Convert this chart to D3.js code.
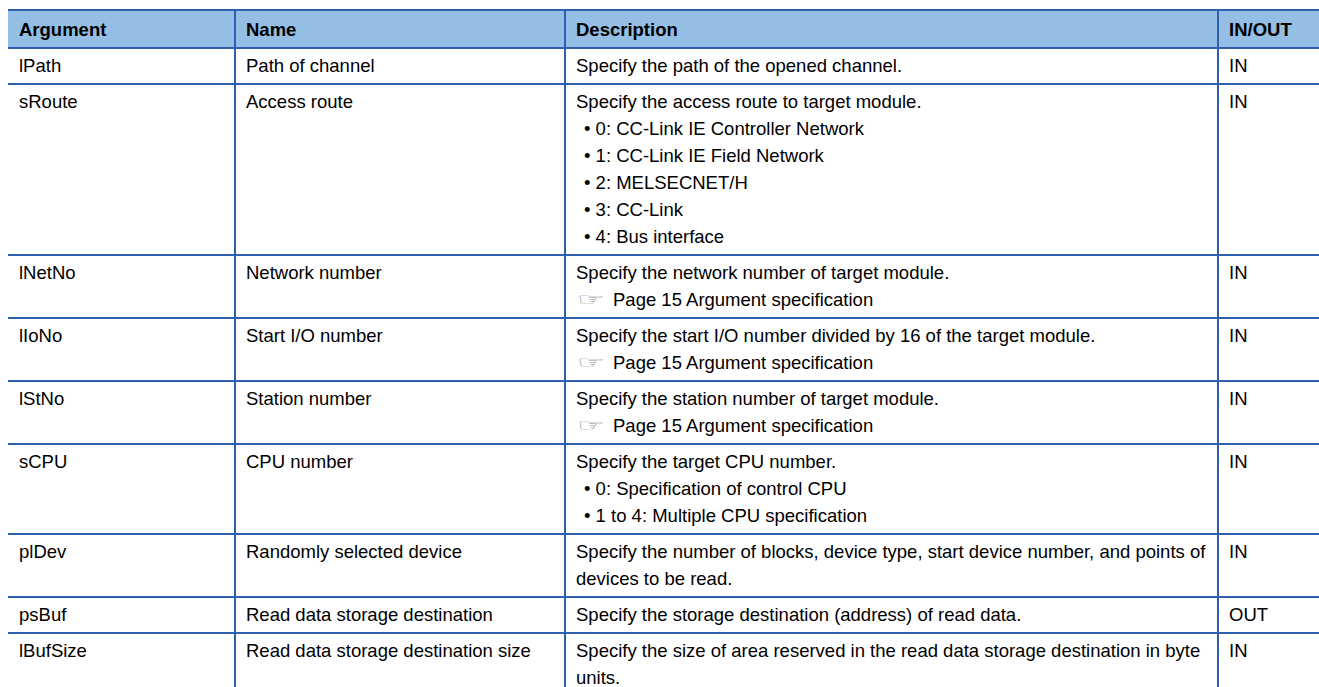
<!DOCTYPE html>
<html>
<head>
<meta charset="utf-8">
<script src="https://cdn.jsdelivr.net/npm/d3@7"></script>
<style>
  html, body { margin: 0; padding: 0; background: #fff; }
  svg { display: block; }
</style>
</head>
<body>
<svg id="chart" width="1319" height="687"></svg>
<script>
// ---- data ----
const headers = ["Argument", "Name", "Description", "IN/OUT"];
const args = ["lPath", "sRoute", "lNetNo", "lIoNo", "lStNo", "sCPU", "plDev", "psBuf", "lBufSize"];
const names = ["Path of channel", "Access route", "Network number", "Start I/O number", "Station number",
  "CPU number", "Randomly selected device", "Read data storage destination", "Read data storage destination size"];
const descriptions = [
  ["Specify the path of the opened channel."],
  ["Specify the access route to target module.", "• 0: CC-Link IE Controller Network", "• 1: CC-Link IE Field Network",
   "• 2: MELSECNET/H", "• 3: CC-Link", "• 4: Bus interface"],
  ["Specify the network number of target module.", "☞Page 15 Argument specification"],
  ["Specify the start I/O number divided by 16 of the target module.", "☞Page 15 Argument specification"],
  ["Specify the station number of target module.", "☞Page 15 Argument specification"],
  ["Specify the target CPU number.", "• 0: Specification of control CPU", "• 1 to 4: Multiple CPU specification"],
  ["Specify the number of blocks, device type, start device number, and points of", "devices to be read."],
  ["Specify the storage destination (address) of read data."],
  ["Specify the size of area reserved in the read data storage destination in byte", "units."]
];
const inout = ["IN", "IN", "IN", "IN", "IN", "IN", "IN", "OUT", "IN"];

// ---- layout ----
const colEdges = [8, 235, 565, 1218, 1340];
const top0 = 10, headH = 38, lineH = 27, rowPad = 9;
const fontSize = 18.5;
const border = "#2f5fae", headFill = "#94bee4";

const svg = d3.select("#chart");

const rows = args.map((a, i) => ({ arg: a, name: names[i], desc: descriptions[i], io: inout[i] }));
const heights = rows.map(r => rowPad + lineH * Math.max(1, r.desc.length));
const tops = [];
let acc = top0 + headH;
heights.forEach(h => { tops.push(acc); acc += h; });

const x = d3.scaleOrdinal().domain(headers).range(colEdges.slice(0, 4));
const y = d3.scaleOrdinal().domain(args).range(tops);

// header background
svg.append("rect").attr("x", colEdges[0]).attr("y", top0)
  .attr("width", colEdges[4] - colEdges[0]).attr("height", headH).attr("fill", headFill);

const font = "'Liberation Sans', Arial, Helvetica, sans-serif";
const padX = 11;

// header text
svg.selectAll("text.h").data(headers).join("text")
  .attr("class", "h")
  .attr("x", d => x(d) + padX).attr("y", top0 + 26)
  .attr("font-family", font).attr("font-size", fontSize).attr("font-weight", "bold")
  .attr("fill", "#000").text(d => d);

// body rows
const g = svg.selectAll("g.row").data(rows).join("g").attr("class", "row")
  .attr("transform", d => `translate(0,${y(d.arg)})`);

const base = 24;
g.append("text").attr("x", x("Argument") + padX).attr("y", base)
  .attr("font-family", font).attr("font-size", fontSize).attr("fill", "#000").text(d => d.arg);
g.append("text").attr("x", x("Name") + padX).attr("y", base)
  .attr("font-family", font).attr("font-size", fontSize).attr("fill", "#000").text(d => d.name);
g.append("text").attr("x", x("IN/OUT") + padX).attr("y", base)
  .attr("font-family", font).attr("font-size", fontSize).attr("fill", "#000").text(d => d.io);

g.each(function(d) {
  const gg = d3.select(this);
  d.desc.forEach((line, li) => {
    const yy = base + li * lineH;
    const dx = x("Description") + padX;
    if (line.startsWith("☞")) {
      gg.append("text").attr("x", 0).attr("y", 0)
        .attr("transform", `translate(${dx + 1},${yy - 1}) scale(1.85,1.0)`)
        .attr("font-family", "'DejaVu Sans', sans-serif").attr("font-size", 17)
        .attr("fill", "#8a8a8a").text("☞");
      gg.append("text").attr("x", dx + 37).attr("y", yy)
        .attr("font-family", font).attr("font-size", fontSize).attr("fill", "#000").text(line.slice(1));
    } else if (line.startsWith("• ")) {
      gg.append("text").attr("x", dx + 8).attr("y", yy)
        .attr("font-family", font).attr("font-size", fontSize).attr("fill", "#000").text(line);
    } else {
      gg.append("text").attr("x", dx).attr("y", yy)
        .attr("font-family", font).attr("font-size", fontSize).attr("fill", "#000").text(line);
    }
  });
});

// horizontal lines
const hLines = [top0, top0 + headH].concat(tops.slice(1)).concat([acc]);
svg.selectAll("line.hl").data(hLines).join("line").attr("class", "hl")
  .attr("x1", colEdges[0]).attr("x2", colEdges[4])
  .attr("y1", d => d).attr("y2", d => d)
  .attr("stroke", border).attr("stroke-width", 2);

// vertical lines (interior column separators only)
svg.selectAll("line.vl").data(colEdges.slice(1, 4)).join("line").attr("class", "vl")
  .attr("x1", d => d).attr("x2", d => d)
  .attr("y1", top0).attr("y2", acc)
  .attr("stroke", border).attr("stroke-width", 2);
</script>
</body>
</html>
